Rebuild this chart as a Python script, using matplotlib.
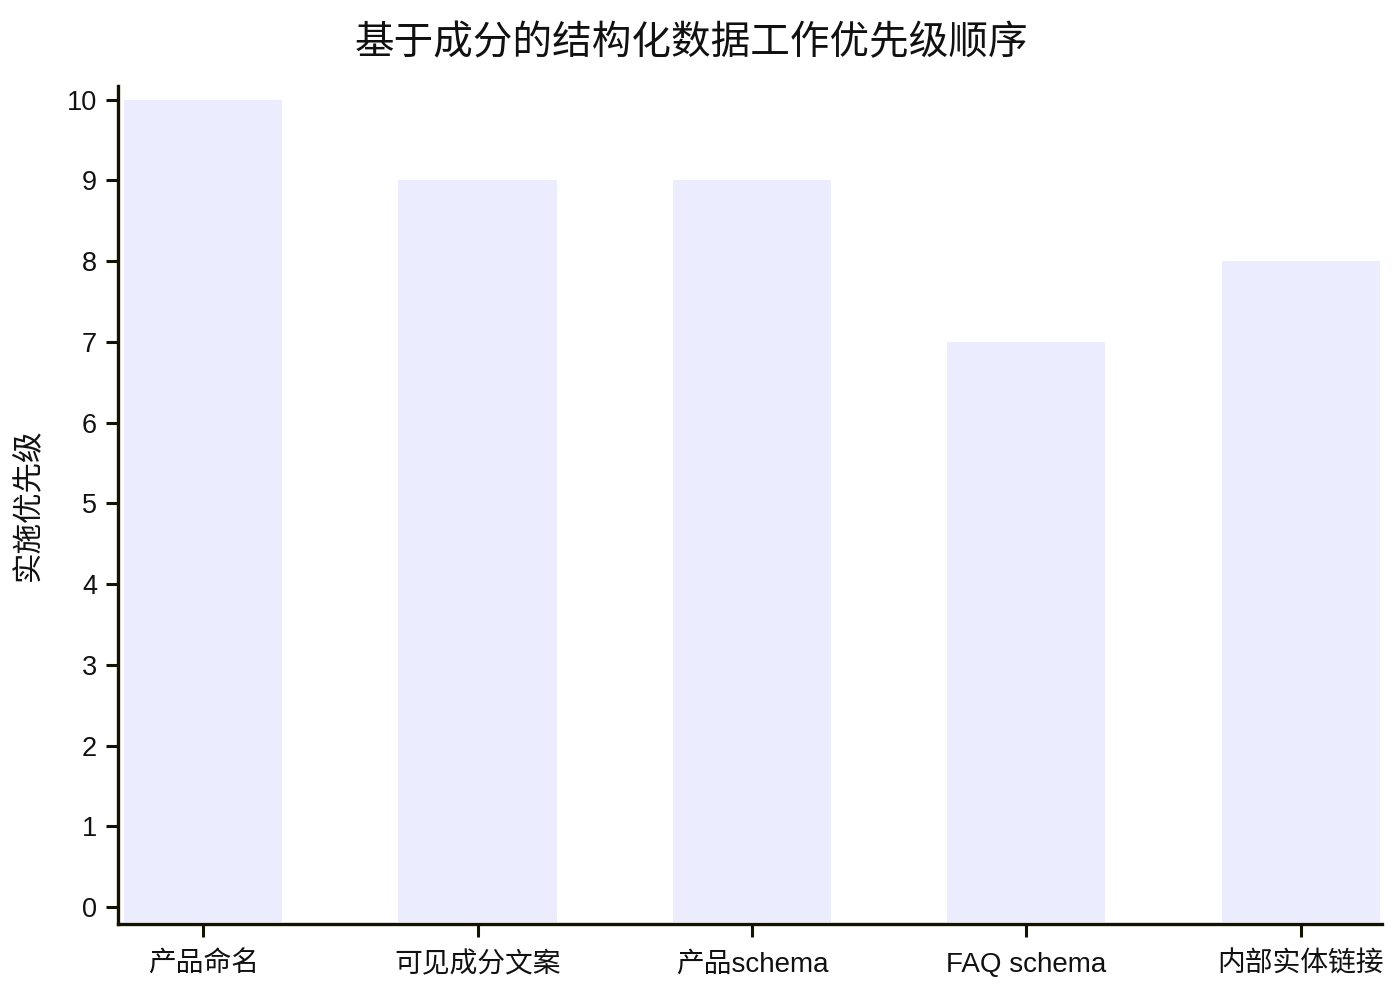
import matplotlib
matplotlib.use("Agg")
import matplotlib.pyplot as plt

plt.rcParams['font.family'] = ['Liberation Sans', 'Noto Sans CJK SC', 'DejaVu Sans']

# data
categories = ['产品命名', '可见成分文案', '产品schema', 'FAQ schema', '内部实体链接']
priority = [10, 9, 9, 7, 8]
title = '基于成分的结构化数据工作优先级顺序'
ylabel = '实施优先级'

axis_color = '#131300'
bar_color = '#ECECFF'

fig = plt.figure(figsize=(14, 10), dpi=100)
ax = fig.add_axes([0.0843, 0.076, 0.9027, 0.838])

y_bottom = -0.21
bar_base = -0.186  # bars start at the bottom of the plot area (mermaid style)

x = list(range(len(categories)))
ax.bar(x, [v - bar_base for v in priority], width=0.576, color=bar_color,
       bottom=bar_base, zorder=1)

ax.set_xlim(-0.31, 4.295)
ax.set_ylim(y_bottom, 10.17)
ax.set_yticks(range(0, 11))
ax.set_xticks(x)
ax.set_xticklabels(categories, fontsize=20, color='#111111')
ax.tick_params(axis='y', labelsize=19.5, length=9, width=2.2, color=axis_color, pad=6, labelcolor='#111111')
ax.tick_params(axis='x', length=9, width=2.2, color=axis_color, pad=11)

for s in ['top', 'right']:
    ax.spines[s].set_visible(False)
for s in ['left', 'bottom']:
    ax.spines[s].set_linewidth(2.4)
    ax.spines[s].set_color(axis_color)

ax.set_ylabel(ylabel, fontsize=22, color='#111111', labelpad=17)
fig.suptitle(title, fontsize=28.5, y=0.976, x=0.494, color='#111111')

fig.savefig('out.png', dpi=100)
